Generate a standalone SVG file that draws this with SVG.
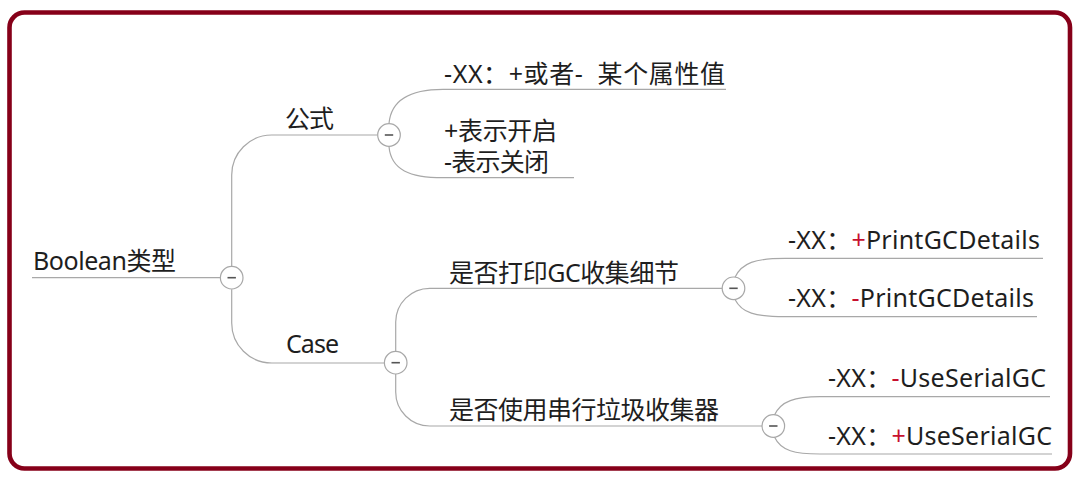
<svg xmlns="http://www.w3.org/2000/svg" width="1084" height="477" viewBox="0 0 1084 477">
<style>
.frame{fill:#fff;stroke:#860019;stroke-width:4.6}
.ln{fill:none;stroke:#a8a8a8;stroke-width:1.2}
.tg circle{fill:#fff;stroke:#a8a8a8;stroke-width:1.2}
.tg line{stroke:#555;stroke-width:1.6}
text{font-family:"Noto Sans","Noto Sans CJK SC",sans-serif;font-size:25px;fill:#1e1e1e;white-space:pre}
.r{fill:#c8102e}
</style>
<rect class="frame" x="9.5" y="12.5" width="1060.5" height="456" rx="15" ry="15"/>
<g id="connectors">
  <path class="ln" d="M32 277.7 H220.2"/>
  <path class="ln" d="M231.7 266.2 V175 A40 40 0 0 1 271.7 135 H377.5"/>
  <path class="ln" d="M231.7 289.2 V323 A40 40 0 0 0 271.7 363 H384.7"/>
  <path class="ln" d="M389 123.5 C391 100 410 89.3 443 89.3 H726"/>
  <path class="ln" d="M389 146.5 C391 170 410 177.7 443 177.7 H574"/>
  <path class="ln" d="M395.7 351.5 V322 A34 34 0 0 1 429.7 288.3 H722.3"/>
  <path class="ln" d="M395.7 374 V392 A34 34 0 0 0 429.7 426 H762"/>
  <path class="ln" d="M735 277.2 C742 263 755 258.3 785 258.3 H1043"/>
  <path class="ln" d="M735 299.4 C742 313 755 316.7 785 316.7 H1037"/>
  <path class="ln" d="M774.5 415 C781 401 795 396.7 820 396.7 H1050"/>
  <path class="ln" d="M774.5 437 C781 451 795 454 820 454 H1052"/>
</g>
<g id="n-root"><text x="33" y="270" textLength="143" lengthAdjust="spacing">Boolean类型</text></g>
<g id="t-root" class="tg"><circle cx="231.7" cy="277.7" r="11.3"/><line x1="227.5" y1="277.7" x2="235.9" y2="277.7"/></g>
<g id="n-formula"><text x="285" y="128" textLength="49" lengthAdjust="spacing">公式</text></g>
<g id="t-formula" class="tg"><circle cx="389" cy="135" r="11.3"/><line x1="384.8" y1="135" x2="393.2" y2="135"/></g>
<g id="n-f1"><text x="444" y="82.7" textLength="281" lengthAdjust="spacing">-XX：+或者-  某个属性值</text></g>
<g id="n-f2"><text x="444" y="140" textLength="113" lengthAdjust="spacing">+表示开启</text><text x="444" y="171" textLength="105" lengthAdjust="spacing">-表示关闭</text></g>
<g id="n-case"><text x="286" y="353" textLength="53" lengthAdjust="spacing">Case</text></g>
<g id="t-case" class="tg"><circle cx="395.7" cy="362.7" r="11.3"/><line x1="391.5" y1="362.7" x2="399.9" y2="362.7"/></g>
<g id="n-print"><text x="449" y="282" textLength="230" lengthAdjust="spacing">是否打印GC收集细节</text></g>
<g id="t-print" class="tg"><circle cx="733.5" cy="288.3" r="11.3"/><line x1="729.3" y1="288.3" x2="737.7" y2="288.3"/></g>
<g id="n-p1"><text x="788" y="249" textLength="252" lengthAdjust="spacing">-XX：<tspan class="r">+</tspan>PrintGCDetails</text></g>
<g id="n-p2"><text x="788" y="307" textLength="246" lengthAdjust="spacing">-XX：<tspan class="r">-</tspan>PrintGCDetails</text></g>
<g id="n-serial"><text x="449" y="419" textLength="270" lengthAdjust="spacing">是否使用串行垃圾收集器</text></g>
<g id="t-serial" class="tg"><circle cx="773.3" cy="426" r="11.3"/><line x1="769.1" y1="426" x2="777.5" y2="426"/></g>
<g id="n-s1"><text x="828" y="387" textLength="218" lengthAdjust="spacing">-XX：<tspan class="r">-</tspan>UseSerialGC</text></g>
<g id="n-s2"><text x="828" y="445" textLength="224" lengthAdjust="spacing">-XX：<tspan class="r">+</tspan>UseSerialGC</text></g>
</svg>
